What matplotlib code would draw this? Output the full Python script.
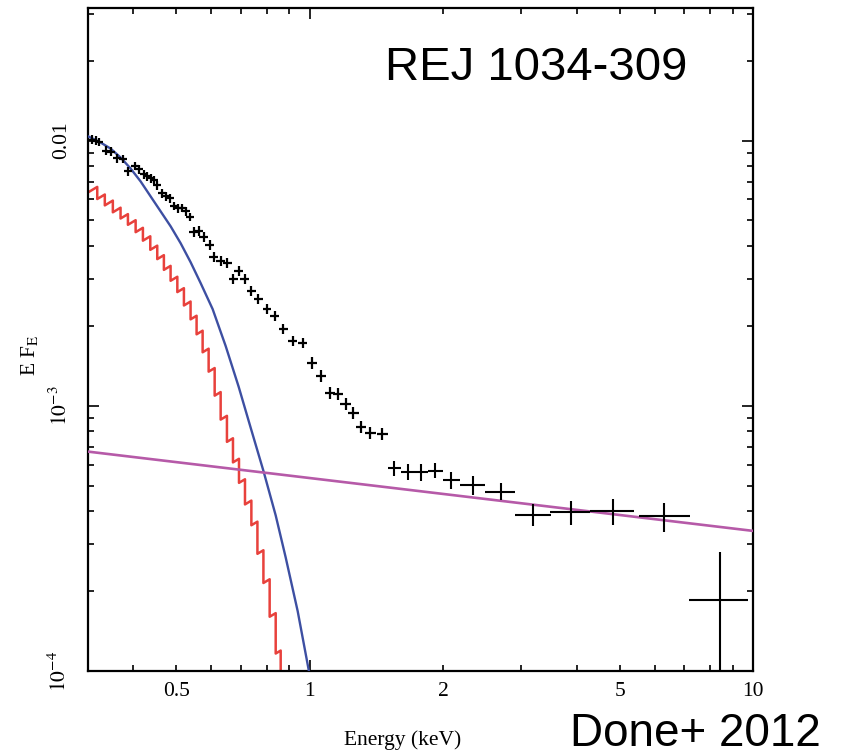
import matplotlib
matplotlib.use('Agg')
import matplotlib.pyplot as plt
import numpy as np
from matplotlib.ticker import FixedLocator, FixedFormatter

plt.rcParams['font.family'] = 'serif'
plt.rcParams['font.serif'] = ['Liberation Serif', 'DejaVu Serif']
plt.rcParams['mathtext.fontset'] = 'stix'

# ---------------- data ----------------
# dense low-energy data (keV, E F_E)
E_dense = [0.3232, 0.3288, 0.3345, 0.3464, 0.3554, 0.3681, 0.3789, 0.3897, 0.4033, 0.4118,
           0.4226, 0.4302, 0.4376, 0.4452, 0.4531, 0.4634, 0.4731, 0.4830, 0.4939, 0.5054,
           0.5160, 0.5249, 0.5359, 0.5480, 0.5624, 0.5772, 0.5946, 0.6080, 0.6297, 0.6519,
           0.6726, 0.6925, 0.7133, 0.7386, 0.7660, 0.8010, 0.8337, 0.8714, 0.9154, 0.9643,
           1.0120, 1.0605, 1.1106, 1.1586, 1.2059, 1.2551, 1.3055, 1.3711, 1.4590]
F_dense = [1.0087e-2, 1.0000e-2, 9.871e-3, 9.171e-3, 9.092e-3, 8.557e-3, 8.520e-3, 7.646e-3, 8.005e-3, 7.780e-3,
           7.451e-3, 7.323e-3, 7.197e-3, 7.104e-3, 6.774e-3, 6.318e-3, 6.159e-3, 6.053e-3, 5.672e-3, 5.551e-3,
           5.575e-3, 5.408e-3, 5.157e-3, 4.520e-3, 4.567e-3, 4.330e-3, 4.047e-3, 3.641e-3, 3.524e-3, 3.463e-3,
           3.011e-3, 3.217e-3, 3.011e-3, 2.706e-3, 2.535e-3, 2.315e-3, 2.180e-3, 1.948e-3, 1.755e-3, 1.720e-3,
           1.447e-3, 1.296e-3, 1.122e-3, 1.105e-3, 1.016e-3, 9.412e-4, 8.337e-4, 7.897e-4, 7.815e-4]
# fractional half-sizes of the error crosses
dE_frac = [0.021, 0.021, 0.021, 0.021, 0.021, 0.021, 0.021, 0.021, 0.021, 0.021,
           0.021, 0.021, 0.021, 0.021, 0.021, 0.021, 0.021, 0.021, 0.021, 0.021,
           0.021, 0.021, 0.021, 0.023, 0.023, 0.023, 0.023, 0.023, 0.023, 0.023,
           0.023, 0.023, 0.023, 0.023, 0.023, 0.023, 0.023, 0.023, 0.023, 0.023,
           0.027, 0.027, 0.027, 0.027, 0.027, 0.027, 0.027, 0.027, 0.027]
dF_frac = [0.036, 0.036, 0.036, 0.036, 0.036, 0.036, 0.036, 0.036, 0.036, 0.036,
           0.036, 0.036, 0.036, 0.036, 0.036, 0.036, 0.036, 0.036, 0.036, 0.036,
           0.036, 0.036, 0.036, 0.044, 0.044, 0.044, 0.044, 0.044, 0.044, 0.044,
           0.044, 0.044, 0.044, 0.044, 0.044, 0.044, 0.044, 0.044, 0.044, 0.044,
           0.052, 0.052, 0.052, 0.052, 0.052, 0.052, 0.052, 0.052, 0.052]

# high-energy binned data
E_bin = [1.5475, 1.6643, 1.7806, 1.9149, 2.0810, 2.3335, 2.6983, 3.1870, 3.8845, 4.8302, 6.2963, 8.4240]
E_lo = [1.5002, 1.6049, 1.7170, 1.8465, 1.9962, 2.1810, 2.4841, 2.9019, 3.4813, 4.2856, 5.5289, 7.1702]
E_hi = [1.6049, 1.7170, 1.8465, 1.9962, 2.1810, 2.4841, 2.9019, 3.4994, 4.2856, 5.3874, 7.2076, 9.7434]
F_bin = [5.845e-4, 5.647e-4, 5.647e-4, 5.696e-4, 5.269e-4, 5.045e-4, 4.749e-4, 3.860e-4, 3.962e-4, 3.996e-4, 3.826e-4, 1.849e-4]
F_lo = [5.455e-4, 5.269e-4, 5.224e-4, 5.361e-4, 4.875e-4, 4.628e-4, 4.432e-4, 3.508e-4, 3.538e-4, 3.538e-4, 3.331e-4, 5.0e-5]
F_hi = [6.213e-4, 6.053e-4, 6.053e-4, 6.106e-4, 5.647e-4, 5.455e-4, 5.133e-4, 4.245e-4, 4.357e-4, 4.470e-4, 4.318e-4, 2.802e-4]

# blue model (disc) curve
E_blue = [0.3170, 0.3375, 0.3554, 0.3744, 0.3944, 0.4155, 0.4376, 0.4610, 0.4856, 0.5115, 0.5387,
          0.5675, 0.6040, 0.6463, 0.6915, 0.7359, 0.7872, 0.8381, 0.8826, 0.9395, 0.9948, 1.0157]
F_blue = [1.035e-2, 9.828e-3, 9.331e-3, 8.632e-3, 7.847e-3, 7.013e-3, 6.159e-3, 5.408e-3, 4.749e-3, 4.101e-3, 3.478e-3,
          2.901e-3, 2.315e-3, 1.680e-3, 1.179e-3, 8.267e-4, 5.647e-4, 3.860e-4, 2.683e-4, 1.681e-4, 1.009e-4, 8.55e-5]

# red model: channel bin edges and E F_E at bin centre
red_edges = [0.3100, 0.3317, 0.3450, 0.3597, 0.3744, 0.3890, 0.4049, 0.4205, 0.4369, 0.4530, 0.4689,
             0.4855, 0.5028, 0.5203, 0.5386, 0.5557, 0.5734, 0.5916, 0.6104, 0.6297, 0.6506,
             0.6713, 0.6926, 0.7145, 0.7386, 0.7622, 0.7863, 0.8122, 0.8381, 0.8601, 0.8850]
red_flux = [6.464e-3, 6.138e-3, 5.815e-3, 5.472e-3, 5.180e-3, 4.909e-3, 4.600e-3, 4.273e-3, 3.943e-3, 3.634e-3,
            3.311e-3, 3.012e-3, 2.729e-3, 2.430e-3, 2.151e-3, 1.889e-3, 1.616e-3, 1.366e-3, 1.109e-3, 9.015e-4,
            7.425e-4, 6.213e-4, 5.202e-4, 4.318e-4, 3.600e-4, 2.809e-4, 2.182e-4, 1.627e-4, 1.179e-4, 8.55e-5]

# magenta power law (end points)
E_pl = [0.3162, 10.0]
F_pl = [6.717e-4, 3.375e-4]

x_major = [1, 10]
x_major_labels = ['1', '10']
x_minor = [0.4, 0.5, 0.6, 0.7, 0.8, 0.9, 2, 3, 4, 5, 6, 7, 8, 9]
x_minor_labels = ['', '0.5', '', '', '', '', '2', '', '', '5', '', '', '', '']
y_major = [1e-4, 1e-3, 1e-2]
y_major_labels = [r'$10^{-4}$', r'$10^{-3}$', '0.01']
y_minor = [2e-4, 3e-4, 4e-4, 5e-4, 6e-4, 7e-4, 8e-4, 9e-4,
           2e-3, 3e-3, 4e-3, 5e-3, 6e-3, 7e-3, 8e-3, 9e-3, 2e-2, 3e-2]

# ---------------- plot ----------------
fig = plt.figure(figsize=(8.44, 7.56), dpi=100)
ax = fig.add_axes([0.1043, 0.11243, 0.7879, 0.87698])
ax.set_xscale('log')
ax.set_yscale('log')
ax.set_xlim(0.3162, 10)
ax.set_ylim(1e-4, 0.0316)

# red stepped model
xs, ys = [], []
for e0, e1, fc in zip(red_edges[:-1], red_edges[1:], red_flux):
    ec = np.sqrt(e0 * e1)
    xs += [e0, e1]
    ys += [fc * e0 / ec, fc * e1 / ec]
ax.plot(xs, ys, color='#e8413c', lw=1.8, zorder=2)

ax.plot(E_blue, F_blue, color='#3d4fa2', lw=1.7, zorder=3)
ax.plot(E_pl, F_pl, color='#b65aa8', lw=1.9, zorder=3)

Ed = np.array(E_dense); Fd = np.array(F_dense)
ax.errorbar(Ed, Fd, xerr=Ed * np.array(dE_frac), yerr=Fd * np.array(dF_frac),
            fmt='none', ecolor='black', elinewidth=1.6, capsize=0, zorder=4)
Eb = np.array(E_bin); Fb = np.array(F_bin)
ax.errorbar(Eb, Fb, xerr=[Eb - np.array(E_lo), np.array(E_hi) - Eb],
            yerr=[Fb - np.array(F_lo), np.array(F_hi) - Fb],
            fmt='none', ecolor='black', elinewidth=1.5, capsize=0, zorder=4)

ax.xaxis.set_major_locator(FixedLocator(x_major))
ax.xaxis.set_major_formatter(FixedFormatter(x_major_labels))
ax.xaxis.set_minor_locator(FixedLocator(x_minor))
ax.xaxis.set_minor_formatter(FixedFormatter(x_minor_labels))
ax.yaxis.set_major_locator(FixedLocator(y_major))
ax.yaxis.set_major_formatter(FixedFormatter(y_major_labels))
ax.yaxis.set_minor_locator(FixedLocator(y_minor))
ax.yaxis.set_minor_formatter(FixedFormatter([''] * len(y_minor)))

ax.tick_params(which='both', direction='in', top=True, right=True, width=1.2,
               labelsize=15.5, colors='black')
ax.tick_params(which='major', length=8)
ax.tick_params(which='minor', length=4.5)
ax.tick_params(axis='x', which='both', pad=8)
ax.tick_params(axis='y', which='both', pad=12)
for lab in ax.get_yticklabels():
    lab.set_rotation(90)
    lab.set_va('center')
for sp in ax.spines.values():
    sp.set_linewidth(1.6)

fig.text(403 / 844, 1 - 740 / 756, 'Energy (keV)', ha='center', va='center',
         fontsize=15.5, family='serif')
fig.text(30 / 844, 1 - 355 / 756, r'E F$_{\rm E}$', ha='center', va='center',
         rotation=90, fontsize=15.5, family='serif')
fig.text(385 / 844, 1 - 80 / 756, 'REJ 1034-309', ha='left', va='baseline',
         fontsize=34, family='Liberation Sans')
fig.text(570 / 844, 0.0, 'Done+ 2012', ha='left', va='bottom',
         fontsize=33, family='Liberation Sans')

fig.savefig('out.png', dpi=100)
